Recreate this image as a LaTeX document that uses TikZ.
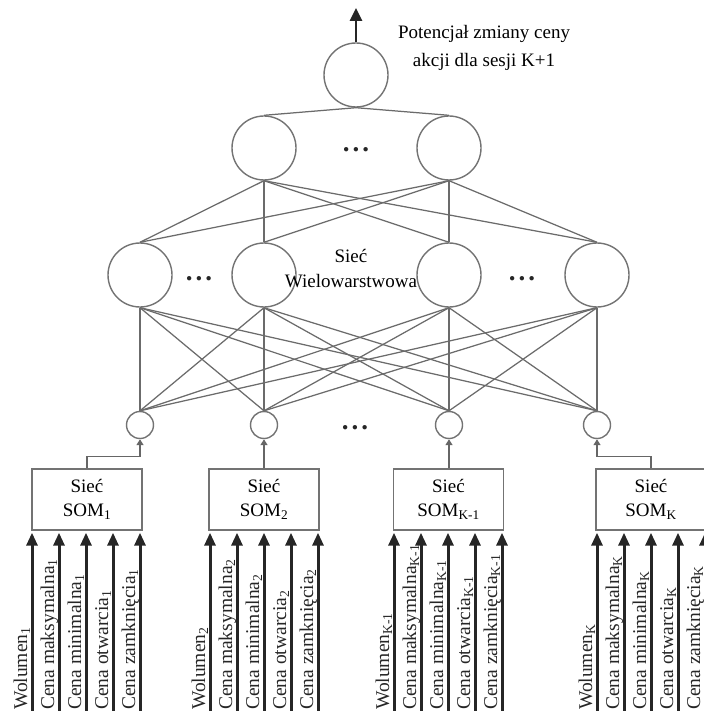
\documentclass[tikz,border=0pt]{standalone}
\usepackage{fontspec}
\setmainfont{Liberation Serif}
\usetikzlibrary{arrows.meta}
\begin{document}
\begin{tikzpicture}[x=1pt,y=-1pt,
  neuron/.style={circle,draw=black!55,line width=1.4pt,minimum size=64pt,inner sep=0pt},
  inneuron/.style={circle,draw=black!55,line width=1.4pt,minimum size=27pt,inner sep=0pt},
  sombox/.style={draw=black!55,line width=1.4pt,minimum width=110pt,minimum height=61pt,inner sep=0pt,align=center,font=\fontsize{19}{24}\selectfont},
  edge/.style={draw=black!58,line width=1.25pt},
  feed/.style={draw=black!60,line width=1.3pt,-{Triangle[length=6pt,width=7pt]}},
  inarrow/.style={draw=black!85,line width=3pt,-{Triangle[length=13pt,width=11pt]}},
  outarrow/.style={draw=black!85,line width=2.6pt,-{Triangle[length=13pt,width=12pt]}},
  lbl/.style={font=\fontsize{19}{24}\selectfont,inner sep=0pt,anchor=base},
  rlbl/.style={rotate=90,anchor=base west,inner sep=0pt,font=\fontsize{19.5}{22}\selectfont,text=black!85},
  dots/.style={font=\fontsize{27}{27}\selectfont\bfseries,inner sep=0pt,anchor=base,text=black!85}
]
\useasboundingbox (0,0) rectangle (703,711);

% neurons
\node[neuron] (o) at (356,75) {};
\node[neuron] (h21) at (264,148) {};
\node[neuron] (h22) at (449,148) {};
\node[neuron] (h11) at (140,275) {};
\node[neuron] (h12) at (264,275) {};
\node[neuron] (h13) at (449,275) {};
\node[neuron] (h14) at (597,275) {};
\node[inneuron] (i1) at (140,425) {};
\node[inneuron] (i2) at (264,425) {};
\node[inneuron] (i3) at (449,425) {};
\node[inneuron] (i4) at (597,425) {};

% dots
\node[dots] (d1) at (356,152) {.\hspace{3pt}.\hspace{3pt}.};
\node[dots] (d2) at (199,280) {.\hspace{3pt}.\hspace{3pt}.};
\node[dots] (d3) at (522,280) {.\hspace{3pt}.\hspace{3pt}.};
\node[dots] (d4) at (355,429) {.\hspace{3pt}.\hspace{3pt}.};

% labels
\node[lbl] (t1) at (484,39) {Potencjał zmiany ceny};
\node[lbl] (t2) at (484,67) {akcji dla sesji K+1};
\node[lbl] (m1) at (351,262) {Sieć};
\node[lbl] (m2) at (351,287) {Wielowarstwowa};

% edges
\foreach \h in {h21,h22} \draw[edge] (o.south) -- (\h.north);
\foreach \a in {h21,h22} \foreach \b in {h11,h12,h13,h14} \draw[edge] (\a.south) -- (\b.north);
\foreach \a in {h11,h12,h13,h14} \foreach \b in {i1,i2,i3,i4} \draw[edge] (\a.south) -- (\b.north);

% output arrow
\coordinate (out) at (356,8);
\draw[outarrow] (o.north) -- (out);

% SOM boxes
\node[sombox] (s1) at (87,499.5) {Sieć\\SOM\textsubscript{1}};
\node[sombox] (s2) at (264,499.5) {Sieć\\SOM\textsubscript{2}};
\node[sombox] (s3) at (448.5,499.5) {Sieć\\SOM\textsubscript{K-1}};
\node[sombox] (s4) at (651,499.5) {Sieć\\SOM\textsubscript{K}};

\draw[feed] (s1.north) -- ++(0,-12) -| (i1.south);
\draw[feed] (s2.north) -- (i2.south);
\draw[feed] (s3.north -| i3.south) -- (i3.south);
\draw[feed] (s4.north) -- ++(0,-12) -| (i4.south);

% input arrows and labels
\foreach \bx/\L/\s in {s1/32/1,s2/210/2,s3/394/K-1,s4/597/K}{
  \foreach \k/\t in {0/Wolumen,1/Cena maksymalna,2/Cena minimalna,3/Cena otwarcia,4/Cena zamknięcia}{
    \pgfmathsetmacro{\xx}{\L+27*\k}
    \coordinate (in-\bx-\k) at (\xx,713);
    \draw[inarrow] (in-\bx-\k) -- ([yshift=-2pt]\bx.south -| in-\bx-\k);
    \node[rlbl] (lab-\bx-\k) at (\xx-5,710) {\t\textsubscript{\s}};
  }
}
\end{tikzpicture}
\end{document}
